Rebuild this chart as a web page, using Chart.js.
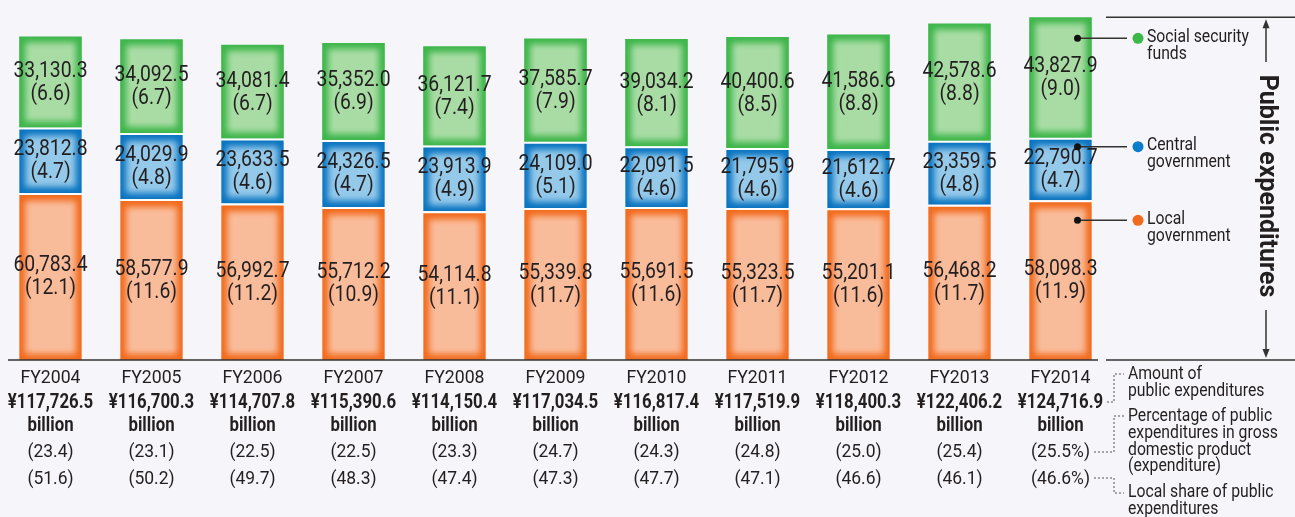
<!DOCTYPE html>
<html>
<head>
<meta charset="utf-8">
<script src="https://cdn.jsdelivr.net/npm/chart.js@4.4.1/dist/chart.umd.min.js"></script>
<style>
  html, body { margin: 0; padding: 0; background: #f5f5fa; }
  #wrap { width: 1295px; height: 517px; }
</style>
</head>
<body>
<div id="wrap"><canvas id="chart-public-exp" width="1295" height="517"></canvas></div>
<script>
// ── Datos (miles de millones de yenes, % del PIB entre paréntesis) ──
var years      = ['FY2004','FY2005','FY2006','FY2007','FY2008','FY2009','FY2010','FY2011','FY2012','FY2013','FY2014'];
var localGov   = [60783.4, 58577.9, 56992.7, 55712.2, 54114.8, 55339.8, 55691.5, 55323.5, 55201.1, 56468.2, 58098.3];
var localPct   = [12.1, 11.6, 11.2, 10.9, 11.1, 11.7, 11.6, 11.7, 11.6, 11.7, 11.9];
var centralGov = [23812.8, 24029.9, 23633.5, 24326.5, 23913.9, 24109.0, 22091.5, 21795.9, 21612.7, 23359.5, 22790.7];
var centralPct = [4.7, 4.8, 4.6, 4.7, 4.9, 5.1, 4.6, 4.6, 4.6, 4.8, 4.7];
var socialSec  = [33130.3, 34092.5, 34081.4, 35352.0, 36121.7, 37585.7, 39034.2, 40400.6, 41586.6, 42578.6, 43827.9];
var socialPct  = [6.6, 6.7, 6.7, 6.9, 7.4, 7.9, 8.1, 8.5, 8.8, 8.8, 9.0];
var totals     = [117726.5, 116700.3, 114707.8, 115390.6, 114150.4, 117034.5, 116817.4, 117519.9, 118400.3, 122406.2, 124716.9];
var gdpShare   = [23.4, 23.1, 22.5, 22.5, 23.3, 24.7, 24.3, 24.8, 25.0, 25.4, 25.5];
var localShare = [51.6, 50.2, 49.7, 48.3, 47.4, 47.3, 47.7, 47.1, 46.6, 46.1, 46.6];

var seriesNames = [['Local', 'government'], ['Central', 'government'], ['Social security', 'funds']];
var notes = [
    ['Amount of', 'public expenditures'],
    ['Percentage of public', 'expenditures in gross', 'domestic product', '(expenditure)'],
    ['Local share of public', 'expenditures']
];

var INK   = '#231f20';
var EDGE  = ['#f26b1d', '#0a74c0', '#3db64a'];
var LIGHT = ['#f9bc9b', '#94c9ea', '#a9dca5'];
var DOT   = ['#f26b1d', '#0a7ccb', '#3db64a'];
var FONT  = 'Roboto, "Liberation Sans", sans-serif';

function fmt(n) { return n.toLocaleString('en-US', {minimumFractionDigits:1, maximumFractionDigits:1}); }

// texto "condensado": escala horizontal
function txt(ctx, s, x, y, size, bold, sx, align) {
    ctx.save();
    ctx.translate(x, y);
    ctx.scale(sx, 1);
    ctx.font = (bold ? 'bold ' : '') + size + 'px ' + FONT;
    ctx.fillStyle = INK;
    ctx.textAlign = align || 'center';
    ctx.textBaseline = 'middle';
    ctx.fillText(s, 0, 0);
    ctx.restore();
}

function line(ctx, pts, dash) {
    ctx.save();
    ctx.strokeStyle = dash ? '#555' : '#333';
    ctx.lineWidth = dash ? 1 : 1.5;
    if (dash) ctx.setLineDash([2, 2]);
    ctx.beginPath();
    ctx.moveTo(pts[0][0], pts[0][1]);
    for (var i = 1; i < pts.length; i++) ctx.lineTo(pts[i][0], pts[i][1]);
    ctx.stroke();
    ctx.restore();
}

function arrowHead(ctx, x, y, dir) {
    ctx.save();
    ctx.fillStyle = '#333';
    ctx.beginPath();
    ctx.moveTo(x, y);
    ctx.lineTo(x - 3.5, y - dir * 9);
    ctx.lineTo(x + 3.5, y - dir * 9);
    ctx.closePath();
    ctx.fill();
    ctx.restore();
}

var bgPlugin = {
    id: 'bg',
    beforeDraw: function(chart) {
        var ctx = chart.ctx;
        ctx.save();
        ctx.fillStyle = '#f5f5fa';
        ctx.fillRect(0, 0, chart.width, chart.height);
        ctx.restore();
    }
};

// brillo interior de cada segmento (borde oscuro, centro claro)
var glowPlugin = {
    id: 'glow',
    afterDatasetsDraw: function(chart) {
        var ctx = chart.ctx;
        chart.data.datasets.forEach(function(ds, di) {
            var meta = chart.getDatasetMeta(di);
            var topB = di < 2 ? 2 : 0;
            meta.data.forEach(function(el) {
                var x0 = el.x - el.width / 2, w = el.width;
                var top = el.y + topB, h = el.base - top;
                ctx.save();
                ctx.beginPath();
                ctx.rect(x0, top, w, h);
                ctx.clip();
                ctx.filter = 'blur(3px)';
                ctx.fillStyle = LIGHT[di];
                ctx.fillRect(x0 + 6, top + 6, w - 12, h - 12);
                ctx.restore();
            });
        });
    }
};

var labelsPlugin = {
    id: 'labels',
    afterDraw: function(chart) {
        var ctx = chart.ctx;
        var vals = [localGov, centralGov, socialSec];
        var pcts = [localPct, centralPct, socialPct];

        // valores dentro de las barras
        for (var di = 0; di < 3; di++) {
            var meta = chart.getDatasetMeta(di);
            meta.data.forEach(function(el, i) {
                var cy = (el.y + el.base) / 2 + 1;
                txt(ctx, fmt(vals[di][i]), el.x, cy - 11.5, 22, false, 0.88);
                txt(ctx, '(' + pcts[di][i].toFixed(1) + ')', el.x, cy + 11.5, 22, false, 0.88);
            });
        }

        // etiquetas bajo el eje
        var base = chart.getDatasetMeta(0).data;
        var last = years.length - 1;
        base.forEach(function(el, i) {
            var x = el.x;
            var pctSuffix = i === last ? '%)' : ')';
            txt(ctx, years[i], x, 378, 19, false, 0.93);
            txt(ctx, '¥' + fmt(totals[i]), x, 403, 21, true, 0.8);
            txt(ctx, 'billion', x, 426, 21, true, 0.8);
            txt(ctx, '(' + gdpShare[i].toFixed(1) + pctSuffix, x, 452, 19, false, 0.92);
            txt(ctx, '(' + localShare[i].toFixed(1) + pctSuffix, x, 479, 19, false, 0.92);
        });

        // ejes / líneas guía
        var yBase = chart.chartArea.bottom;
        var yTop  = chart.getDatasetMeta(2).data[last].y;
        line(ctx, [[8, yBase], [1098, yBase]]);
        line(ctx, [[1106, yBase], [1295, yBase]]);
        line(ctx, [[1106, yTop], [1295, yTop]]);

        // flechas + título vertical
        var ax = 1266;
        line(ctx, [[ax, 62], [ax, yTop + 8]]);
        arrowHead(ctx, ax, yTop + 2, -1);
        line(ctx, [[ax, 310], [ax, yBase - 8]]);
        arrowHead(ctx, ax, yBase - 2, 1);
        ctx.save();
        ctx.translate(ax, 186);
        ctx.rotate(Math.PI / 2);
        txt(ctx, 'Public expenditures', 0, 0, 26, true, 0.96);
        ctx.restore();

        // leyenda con conectores desde la barra FY2014
        var offs = [20, 9, 21];
        for (var s = 0; s < 3; s++) {
            var el2 = chart.getDatasetMeta(s).data[last];
            var dy = el2.y + offs[s];
            var dx = el2.x + 17;
            line(ctx, [[dx, dy], [1127, dy]]);
            ctx.save();
            ctx.fillStyle = '#111';
            ctx.beginPath(); ctx.arc(dx, dy, 3.5, 0, Math.PI * 2); ctx.fill();
            ctx.fillStyle = DOT[s];
            ctx.beginPath(); ctx.arc(1138, dy, 5.5, 0, Math.PI * 2); ctx.fill();
            ctx.restore();
            txt(ctx, seriesNames[s][0], 1147, dy - 1, 17.5, false, 0.9, 'left');
            txt(ctx, seriesNames[s][1], 1147, dy + 16, 17.5, false, 0.9, 'left');
        }

        // notas explicativas de las filas inferiores
        var noteY = [375, 417, 493];
        notes.forEach(function(n, k) {
            n.forEach(function(t, j) {
                txt(ctx, t, 1128, noteY[k] + j * 16.7, 17.5, false, 0.9, 'left');
            });
        });
        line(ctx, [[1107, 402], [1114, 402], [1114, 374], [1124, 374]], true);
        line(ctx, [[1094, 452], [1114, 452], [1114, 416], [1124, 416]], true);
        line(ctx, [[1094, 478], [1114, 478], [1114, 493], [1124, 493]], true);
    }
};

var canvas = document.getElementById('chart-public-exp');
window._peChart = new Chart(canvas, {
    type: 'bar',
    data: {
        labels: years,
        datasets: [
            { label: 'Local government', data: localGov, backgroundColor: EDGE[0], borderColor: '#ffffff',
              borderWidth: {top: 2, right: 0, bottom: 0, left: 0}, borderSkipped: false },
            { label: 'Central government', data: centralGov, backgroundColor: EDGE[1], borderColor: '#ffffff',
              borderWidth: {top: 2, right: 0, bottom: 0, left: 0}, borderSkipped: false },
            { label: 'Social security funds', data: socialSec, backgroundColor: EDGE[2], borderWidth: 0 }
        ]
    },
    options: {
        responsive: false,
        devicePixelRatio: 1,
        animation: false,
        barPercentage: 0.62,
        categoryPercentage: 1.0,
        layout: { padding: { left: 0, right: 184, top: 0, bottom: 157 } },
        plugins: { legend: { display: false }, tooltip: { enabled: false } },
        scales: {
            x: { stacked: true, display: false },
            y: { stacked: true, display: false, min: 0, max: 131000 }
        }
    },
    plugins: [bgPlugin, glowPlugin, labelsPlugin]
});
</script>
</body>
</html>
